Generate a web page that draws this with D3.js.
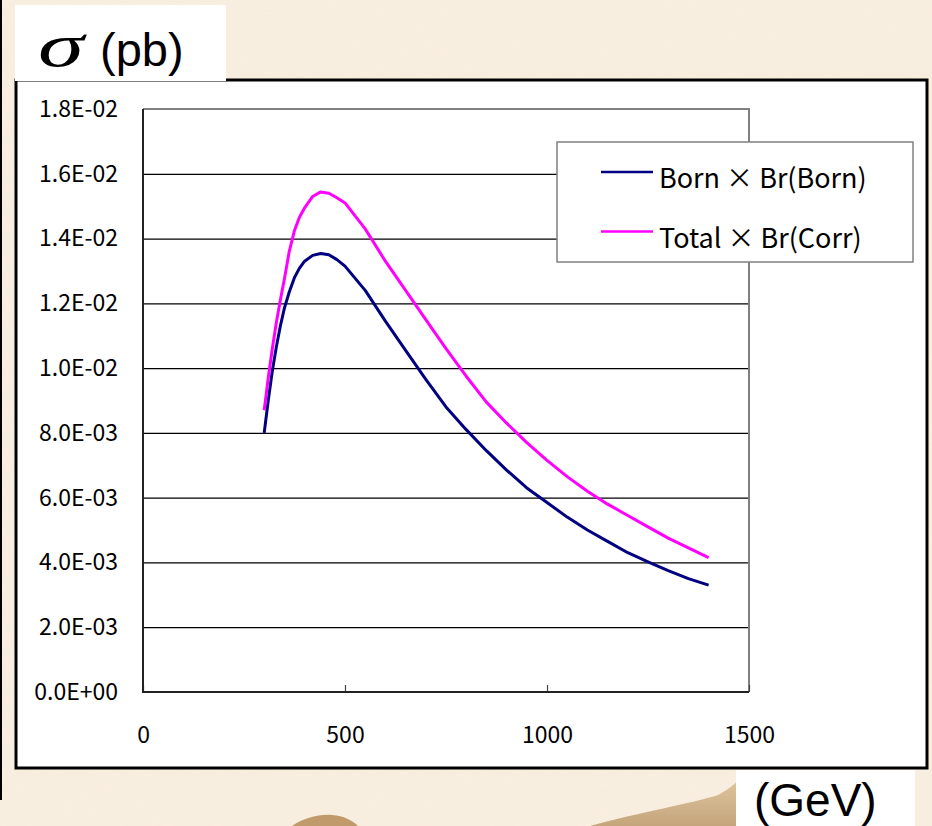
<!DOCTYPE html>
<html>
<head>
<meta charset="utf-8">
<script src="https://cdn.jsdelivr.net/npm/d3@7"></script>
<style>
  body { margin: 0; background: #f9efe1; }
  svg { display: block; }
</style>
</head>
<body>
<div id="chart"></div>
<script>
// energy points (GeV)
var energies = [300, 310, 320, 330, 340, 350, 362, 375, 387, 400, 420, 440, 460, 480, 500, 550, 600, 650,
                700, 750, 800, 850, 900, 950, 1000, 1050, 1100, 1150, 1200, 1250, 1300, 1350, 1400];
// Born x Br(Born), pb
var bornValues = [0.0080, 0.0090, 0.0099, 0.01065, 0.0113, 0.01185, 0.01235, 0.0128, 0.01308, 0.0133,
                  0.01348, 0.01354, 0.0135, 0.01335, 0.01315, 0.0124, 0.01145, 0.01055,
                  0.00965, 0.0088, 0.0081, 0.00745, 0.00685, 0.0063, 0.00585, 0.0054, 0.0050,
                  0.00465, 0.0043, 0.00402, 0.00375, 0.0035, 0.0033];
// Total x Br(Corr), pb
var totalValues = [0.0087, 0.0097, 0.0106, 0.0114, 0.0121, 0.01275, 0.0136, 0.01425, 0.01465, 0.01495,
                   0.0153, 0.01544, 0.0154, 0.01526, 0.0151, 0.0143, 0.0133, 0.0124,
                   0.0115, 0.0106, 0.00975, 0.00895, 0.0083, 0.0077, 0.00715, 0.00665, 0.0062,
                   0.0058, 0.00545, 0.0051, 0.00475, 0.00445, 0.00415];
var seriesNames = ["Born \u00d7 Br(Born)", "Total \u00d7 Br(Corr)"];
var seriesColors = ["#000080", "#ff00ff"];
var yTicks = [0, 0.002, 0.004, 0.006, 0.008, 0.010, 0.012, 0.014, 0.016, 0.018];
var xTicks = [0, 500, 1000, 1500];

var width = 932, height = 826;
var plot = { left: 143, top: 109, right: 749, bottom: 692 };

var svg = d3.select("#chart").append("svg")
    .attr("width", width)
    .attr("height", height);

// beige paper background with faint texture
var defs = svg.append("defs");
var filt = defs.append("filter").attr("id", "grain");
filt.append("feTurbulence").attr("type", "fractalNoise").attr("baseFrequency", "0.08 0.5").attr("numOctaves", 2).attr("seed", 4);
filt.append("feColorMatrix").attr("values", "0 0 0 0 0.85  0 0 0 0 0.72  0 0 0 0 0.55  0 0 0 0.12 0");
svg.append("rect").attr("width", width).attr("height", height).attr("fill", "#f9efe1");
svg.append("rect").attr("width", width).attr("height", height).attr("filter", "url(#grain)");

// tan shapes at the bottom of the photo
var grad = defs.append("linearGradient").attr("id", "tan").attr("x1", 0).attr("y1", 0).attr("x2", 0).attr("y2", 1);
grad.append("stop").attr("offset", "0%").attr("stop-color", "#e2c9a0");
grad.append("stop").attr("offset", "100%").attr("stop-color", "#c4a57c");
svg.append("path").attr("d", "M590,826 C640,812 690,804 718,795 C732,788 738,780 745,774 L745,826 Z").attr("fill", "url(#tan)");
svg.append("path").attr("d", "M292,826 C304,818 318,814 332,815 C344,816 352,820 358,826 Z").attr("fill", "#c09a6a");
svg.append("rect").attr("x", 0).attr("y", 0).attr("width", 2).attr("height", 800).attr("fill", "#000");

// outer chart frame
svg.append("rect")
    .attr("x", 16).attr("y", 80).attr("width", 911).attr("height", 688)
    .attr("fill", "#fff").attr("stroke", "#000").attr("stroke-width", 3);

var x = d3.scaleLinear().domain([0, 1500]).range([plot.left, plot.right]);
var y = d3.scaleLinear().domain([0, 0.018]).range([plot.bottom, plot.top]);

function sciFormat(v) {
    if (v === 0) return "0.0E+00";
    var s = v.toExponential(1).toUpperCase().split("E");
    var e = +s[1];
    return s[0] + "E" + (e < 0 ? "-" : "+") + (Math.abs(e) < 10 ? "0" : "") + Math.abs(e);
}

// y axis with gridlines
var yAxis = svg.append("g")
    .attr("transform", "translate(" + plot.left + ",0)")
    .call(d3.axisLeft(y).tickValues(yTicks).tickFormat(sciFormat)
        .tickSize(-(plot.right - plot.left)).tickPadding(25));
yAxis.select(".domain").remove();
yAxis.selectAll("line").attr("stroke", "#000").attr("stroke-width", 1.2);
yAxis.selectAll("text")
    .attr("font-family", "'Noto Sans CJK JP', 'Noto Sans', sans-serif")
    .attr("font-size", 23).attr("fill", "#000");

// plot area border: grey top/right, dark axes
svg.append("path")
    .attr("d", "M" + plot.left + "," + plot.top + "H" + plot.right + "V" + plot.bottom)
    .attr("fill", "none").attr("stroke", "#808080").attr("stroke-width", 2);

var xAxis = svg.append("g")
    .attr("transform", "translate(0," + plot.bottom + ")")
    .call(d3.axisBottom(x).tickValues(xTicks).tickFormat(d3.format("d"))
        .tickSize(-7).tickPadding(35));
xAxis.select(".domain").remove();
xAxis.selectAll("line").attr("stroke", "#444").attr("stroke-width", 1.2);
xAxis.selectAll("text")
    .attr("font-family", "'Noto Sans CJK JP', 'Noto Sans', sans-serif")
    .attr("font-size", 23).attr("fill", "#000");

svg.append("path")
    .attr("d", "M" + plot.left + "," + plot.top + "V" + plot.bottom + "H" + plot.right)
    .attr("fill", "none").attr("stroke", "#222").attr("stroke-width", 2);

// curves
var line = d3.line()
    .x(function(d) { return x(d[0]); })
    .y(function(d) { return y(d[1]); });

[bornValues, totalValues].forEach(function(vals, i) {
    svg.append("path")
        .datum(energies.map(function(e, j) { return [e, vals[j]]; }))
        .attr("d", line)
        .attr("fill", "none")
        .attr("stroke", seriesColors[i])
        .attr("stroke-width", 3)
        .attr("stroke-linejoin", "round");
});

// legend
var legend = svg.append("g");
legend.append("rect")
    .attr("x", 557).attr("y", 142).attr("width", 356).attr("height", 120)
    .attr("fill", "#fff").attr("stroke", "#808080").attr("stroke-width", 1.5);
seriesNames.forEach(function(name, i) {
    var ly = 172 + i * 59.5;
    legend.append("line")
        .attr("x1", 601).attr("x2", 653).attr("y1", ly).attr("y2", ly)
        .attr("stroke", seriesColors[i]).attr("stroke-width", 2.5);
    legend.append("text")
        .attr("x", 659).attr("y", ly + 16)
        .attr("font-family", "'Noto Sans CJK JP', 'Noto Sans', sans-serif")
        .attr("font-size", 27).attr("fill", "#000")
        .text(name);
});

// unit labels in white boxes
svg.append("rect").attr("x", 15).attr("y", 5).attr("width", 211).attr("height", 76).attr("fill", "#fff");
svg.append("text")
    .attr("transform", "translate(38,66) scale(1.5,1)")
    .attr("font-family", "'Liberation Serif', serif").attr("font-style", "italic").attr("font-size", 62)
    .text("\u03c3");
svg.append("text")
    .attr("x", 100).attr("y", 66)
    .attr("font-family", "'Liberation Sans', Arial, sans-serif").attr("font-size", 47)
    .text("(pb)");

svg.append("rect").attr("x", 736).attr("y", 770).attr("width", 179).attr("height", 56).attr("fill", "#fff");
svg.append("text")
    .attr("x", 754).attr("y", 816)
    .attr("font-family", "'Liberation Sans', Arial, sans-serif").attr("font-size", 46)
    .text("(GeV)");
</script>
</body>
</html>
